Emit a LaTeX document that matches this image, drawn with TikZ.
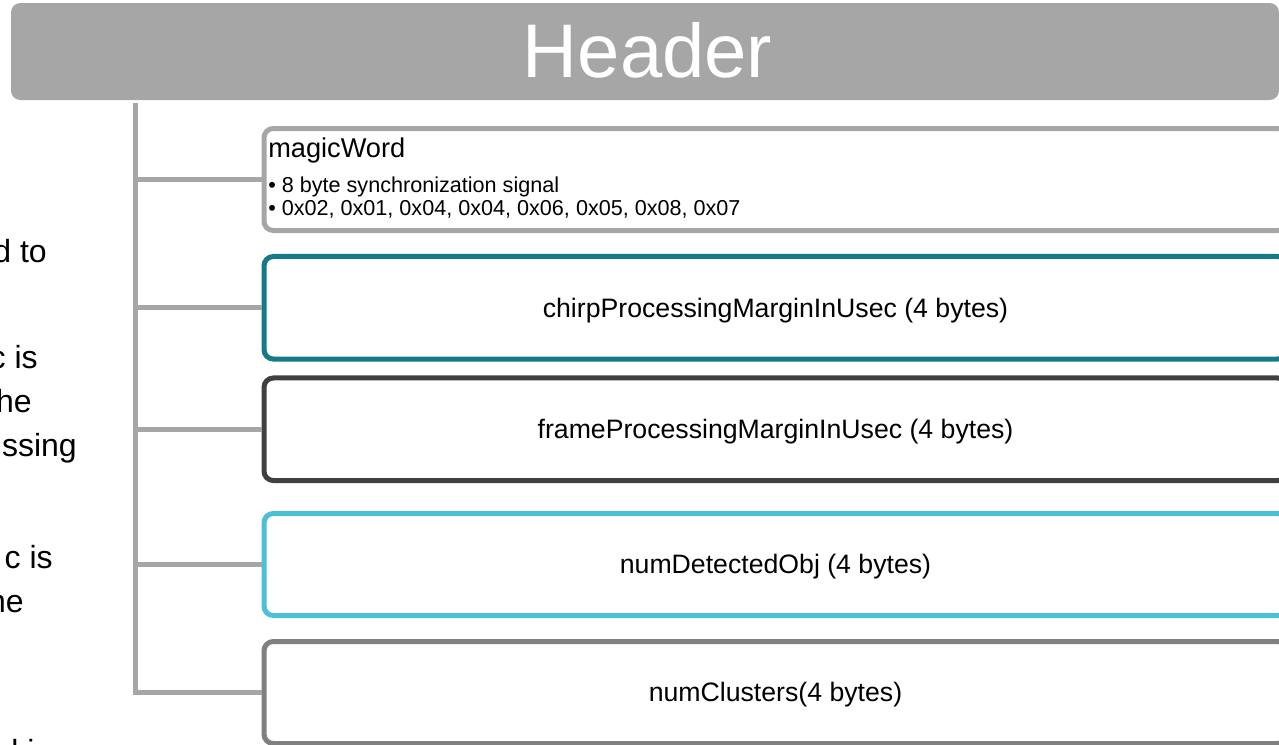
\documentclass[tikz,border=0pt]{standalone}
\usepackage{fontspec}
\setmainfont{Liberation Sans}
\definecolor{lgray}{HTML}{A6A6A6}
\definecolor{tealc}{HTML}{147A88}
\definecolor{dgray}{HTML}{404040}
\definecolor{skyc}{HTML}{4BC0D6}
\definecolor{mgray}{HTML}{808080}
\begin{document}
\begin{tikzpicture}[x=0.75pt,y=-0.75pt,
  trunk/.style={draw=lgray,line width=3.75pt},
  field/.style={draw,fill=white,line width=3.75pt,rounded corners=7pt,
    minimum width=767.25pt,minimum height=76.5pt,inner sep=0pt,
    font=\fontsize{20pt}{24pt}\selectfont,text height=14.2pt,text depth=0pt},
  side/.style={font=\fontsize{24pt}{29pt}\selectfont,anchor=base east,inner sep=0pt},
  bullet/.style={font=\fontsize{16.2pt}{19pt}\selectfont,anchor=base west,inner sep=0pt}]
\useasboundingbox (0,0) rectangle (1279,744);
\clip (0,0) rectangle (1279,744);

% header bar
\node[fill=lgray,rounded corners=7pt,minimum width=951pt,minimum height=72.75pt,
  inner sep=0pt] (hdr) at (645,51.5) {};
\node[font=\fontsize{57pt}{60pt}\selectfont,text=white,anchor=base,inner sep=0pt]
  (htitle) at (647.5,77) {Header};

% text of the neighbouring column, cut by the frame
\node[side] (s1) at (47,262) {d to};
\node[side] (s2) at (38,368) {c is};
\node[side] (s3) at (32,412) {he};
\node[side] (s4) at (77,456) {ssing};
\node[side] (s5) at (53,568) {c is};
\node[side] (s6) at (24,612) {he};
\node[side,anchor=base west] (s7) at (11,762) {ki};

% field boxes
\coordinate (top) at (135.5,103);
\node[field,draw=lgray] (mag) at (775.5,179.5) {};
\node[field,draw=tealc,minimum height=76.9pt] (chirp) at (775.5,307.75)
  {chirpProcessingMarginInUsec (4 bytes)};
\node[field,draw=dgray,minimum height=76.9pt] (frame) at (775.5,429.25)
  {frameProcessingMarginInUsec (4 bytes)};
\node[field,draw=skyc] (det) at (775.5,564.5) {numDetectedObj (4 bytes)};
\node[field,draw=mgray] (clu) at (775.5,692.5) {numClusters(4 bytes)};

% tree connectors
\draw[trunk] (top) |- (clu.west);
\draw[trunk] (top |- mag.west) -- (mag.west);
\draw[trunk] (top |- chirp.west) -- (chirp.west);
\draw[trunk] (top |- frame.west) -- (frame.west);
\draw[trunk] (top |- det.west) -- (det.west);

% magicWord contents
\node[font=\fontsize{20.4pt}{24pt}\selectfont,anchor=base west,inner sep=0pt]
  (mwt) at (268,157) {magicWord};
\node[bullet] (mw1) at (268,192) {\textbullet\ 8 byte synchronization signal};
\node[bullet] (mw2) at (268,215) {\textbullet\ 0x02, 0x01, 0x04, 0x04, 0x06, 0x05, 0x08, 0x07};
\end{tikzpicture}
\end{document}
